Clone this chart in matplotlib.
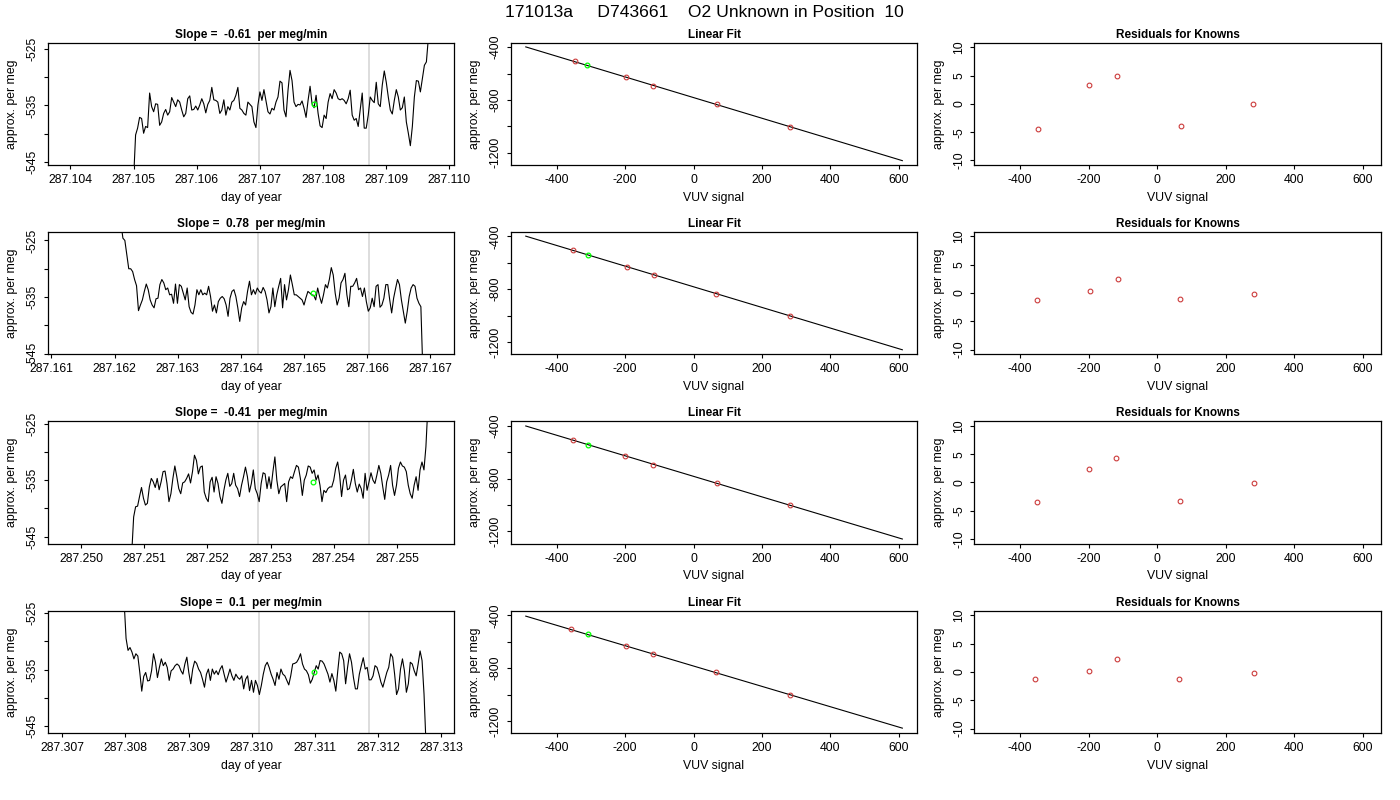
import numpy as np
import matplotlib.pyplot as plt

plt.rcParams['font.family'] = ['Liberation Sans', 'DejaVu Sans']
plt.rcParams['axes.unicode_minus'] = False

# ---- data ----
main_title = "171013a     D743661    O2 Unknown in Position  10"
slopes = ["-0.61", "0.78", "-0.41", "0.1"]

# time series (day of year), sampled evenly between start and end
ts_start = [287.10500, 287.16210, 287.25080, 287.30798]
ts_end = [287.10970, 287.16688, 287.25549, 287.31276]

ts1 = [-548.0, -540.2, -539.0, -537.1, -537.3, -539.9, -538.7, -538.9, -532.8, -535.2, -536.1, -534.7,
       -534.8, -538.5, -537.9, -536.4, -535.7, -536.7, -536.1, -533.6, -534.4, -535.2, -534.0, -534.4,
       -535.8, -537.0, -536.4, -533.8, -533.3, -535.8, -535.7, -535.1, -535.8, -534.9, -533.8, -534.7,
       -536.3, -534.8, -534.1, -531.8, -534.0, -534.1, -534.4, -536.4, -535.8, -534.0, -536.7, -535.2,
       -535.8, -534.4, -534.1, -533.2, -531.8, -535.5, -535.8, -536.4, -536.7, -534.4, -534.8, -535.2,
       -537.9, -538.9, -534.9, -532.6, -534.1, -532.2, -534.1, -536.1, -536.5, -535.5, -535.8, -534.4,
       -533.5, -530.7, -531.0, -535.8, -537.0, -532.3, -528.8, -530.6, -534.4, -535.2, -534.8, -534.9,
       -534.2, -535.5, -537.1, -534.1, -531.6, -534.7, -535.4, -533.2, -536.4, -538.6, -538.9, -536.7,
       -537.3, -534.4, -532.9, -533.8, -532.2, -532.8, -533.8, -534.0, -533.8, -534.1, -534.7, -533.8,
       -532.3, -536.7, -537.6, -537.3, -538.7, -535.8, -532.8, -539.0, -539.0, -536.7, -533.5, -534.1,
       -534.5, -530.9, -534.7, -535.2, -531.4, -528.9, -530.9, -533.5, -535.8, -536.5, -534.1, -532.2,
       -533.5, -535.8, -535.4, -533.5, -537.9, -539.9, -542.1, -538.7, -533.5, -530.6, -530.7, -532.6,
       -530.3, -527.9, -527.3, -523.0, -520.0]

ts2 = [-522.0, -524.6, -525.0, -527.5, -530.0, -530.0, -530.5, -531.9, -533.0, -537.4, -536.4, -535.5,
       -534.0, -532.7, -533.7, -535.5, -536.4, -536.9, -535.3, -535.2, -532.8, -531.9, -532.5, -533.7,
       -533.4, -534.6, -534.5, -536.1, -532.7, -536.1, -532.8, -533.1, -534.3, -535.5, -533.4, -536.7,
       -537.7, -538.0, -536.4, -533.7, -534.6, -533.7, -534.6, -534.3, -534.6, -533.1, -534.9, -537.5,
       -536.4, -537.8, -535.8, -535.2, -534.9, -535.3, -536.4, -538.4, -535.2, -534.0, -533.7, -534.9,
       -536.9, -539.3, -536.9, -535.8, -536.4, -534.0, -532.2, -534.6, -533.7, -534.5, -533.4, -534.0,
       -534.3, -533.3, -534.0, -535.5, -537.8, -536.7, -533.4, -536.7, -534.6, -533.1, -531.7, -536.9,
       -532.8, -535.5, -533.7, -531.1, -532.8, -534.6, -534.6, -534.9, -535.2, -535.5, -536.4, -535.1,
       -534.0, -534.3, -534.6, -534.7, -535.5, -533.4, -534.9, -536.1, -534.6, -532.8, -533.4, -531.9,
       -529.8, -531.1, -534.3, -536.4, -535.2, -532.5, -531.9, -530.8, -534.6, -536.7, -533.1, -533.1,
       -532.5, -531.7, -533.7, -533.4, -534.9, -533.4, -535.8, -537.5, -536.9, -535.2, -536.7, -533.1,
       -532.8, -536.8, -536.4, -535.2, -532.8, -532.8, -535.5, -537.8, -535.2, -533.5, -531.9, -532.8,
       -535.5, -537.5, -539.6, -537.5, -534.9, -533.4, -532.8, -533.1, -535.2, -536.1, -536.7, -548.0]

ts3 = [-548.0, -541.5, -539.7, -539.6, -537.9, -536.3, -538.2, -539.4, -539.1, -536.2, -534.7, -535.3,
       -536.3, -534.7, -536.7, -535.3, -533.5, -533.4, -535.6, -538.8, -537.4, -534.7, -532.5, -534.4,
       -536.5, -537.4, -535.5, -535.3, -534.7, -533.9, -535.5, -533.5, -530.6, -531.5, -533.9, -532.7,
       -532.5, -537.1, -538.2, -538.8, -535.3, -534.5, -537.1, -534.4, -535.6, -537.9, -539.1, -536.8,
       -535.0, -533.8, -536.1, -535.6, -533.8, -535.9, -536.5, -537.9, -535.9, -534.4, -532.7, -534.4,
       -537.1, -535.6, -533.2, -536.5, -537.4, -538.8, -535.6, -533.7, -533.9, -536.5, -534.4, -536.5,
       -533.5, -530.9, -535.0, -537.4, -536.2, -535.9, -535.6, -538.8, -535.3, -534.4, -534.7, -533.5,
       -532.4, -532.7, -534.7, -537.7, -535.0, -534.1, -532.5, -532.7, -533.8, -533.2, -535.0, -534.1,
       -535.9, -538.8, -536.8, -537.2, -536.5, -536.2, -536.2, -535.0, -532.9, -531.8, -534.1, -537.9,
       -535.0, -534.1, -536.7, -536.5, -535.0, -533.1, -535.6, -537.1, -535.7, -536.5, -538.2, -533.8,
       -536.8, -535.3, -533.7, -535.0, -535.6, -534.1, -532.4, -533.8, -536.2, -538.4, -535.3, -534.1,
       -532.4, -535.9, -537.7, -535.9, -532.9, -531.8, -532.5, -532.7, -533.5, -535.9, -537.4, -538.2,
       -535.9, -534.4, -536.8, -533.2, -531.8, -533.2, -529.1, -522.0]

ts4 = [-523.0, -529.5, -531.6, -531.1, -531.9, -533.1, -532.2, -532.6, -535.5, -538.8, -536.2, -535.5,
       -537.0, -536.9, -535.2, -532.2, -533.7, -536.4, -534.6, -533.1, -534.3, -533.7, -534.6, -536.9,
       -535.2, -534.9, -534.3, -534.0, -534.3, -535.2, -535.8, -534.0, -532.8, -535.5, -537.5, -534.9,
       -533.5, -533.9, -534.9, -535.5, -536.7, -538.1, -535.8, -534.9, -536.9, -534.9, -535.8, -535.2,
       -535.9, -534.9, -534.3, -535.8, -537.2, -536.1, -534.9, -536.1, -536.9, -535.8, -536.4, -536.7,
       -536.1, -538.4, -536.7, -536.1, -538.7, -536.9, -539.0, -536.9, -537.8, -539.4, -537.8, -535.8,
       -534.3, -533.7, -534.6, -535.8, -536.7, -537.8, -535.5, -536.7, -534.9, -535.8, -536.1, -536.9,
       -537.7, -536.1, -534.0, -533.9, -533.7, -533.1, -532.2, -534.0, -534.9, -535.2, -535.9, -537.4,
       -536.7, -535.5, -534.3, -534.9, -533.4, -533.5, -534.0, -534.9, -535.8, -537.2, -535.7, -536.9,
       -538.8, -535.2, -531.9, -532.2, -533.4, -537.5, -534.6, -532.2, -533.7, -536.4, -538.4, -538.4,
       -535.8, -534.3, -532.9, -534.9, -534.6, -536.8, -536.8, -536.1, -534.3, -534.6, -535.8, -537.2,
       -538.1, -536.8, -535.5, -534.6, -532.2, -532.8, -535.8, -539.4, -538.4, -534.9, -533.1, -535.2,
       -539.0, -537.5, -533.7, -534.0, -535.2, -536.1, -534.0, -531.7, -533.4, -539.3, -548.0]

series = [ts1, ts2, ts3, ts4]

# window edges (grey lines) and the unknown's mean (green point)
win_lo = [287.10698, 287.16427, 287.25280, 287.31011]
win_hi = [287.10872, 287.16602, 287.25455, 287.31186]
unk_time = [287.10785, 287.16514, 287.25367, 287.31098]
unk_val = [-534.71, -534.29, -535.41, -535.41]
time_lo = [287.10364, 287.16094, 287.24947, 287.30677]
time_ticks_first = [287.104, 287.161, 287.250, 287.307]

# known standards: VUV signal vs approx. per meg
known_vuv = [[-347, -198, -118, 70, 281],
             [-352, -195, -115, 66, 282],
             [-352, -199, -119, 68, 283],
             [-357, -198, -118, 65, 283]]
known_pm = [[-505.7, -628.9, -694.3, -832.7, -1001.3],
            [-506.0, -628.0, -693.0, -832.5, -1002.0],
            [-505.0, -630.0, -695.0, -832.5, -1002.5],
            [-507.5, -632.5, -695.0, -832.5, -1002.5]]
unk_vuv = [-309.7, -309.0, -308.7, -308.7]
unk_pm = [-538.4, -540.0, -542.5, -545.0]
residuals = [[-4.4, 3.4, 4.9, -4.0, 0.0],
             [-1.3, 0.4, 2.4, -1.1, -0.2],
             [-3.5, 2.3, 4.3, -3.2, -0.1],
             [-1.2, 0.1, 2.3, -1.3, -0.1]]
fit_range = [-490, 610]

# ---- figure ----
fig = plt.figure(figsize=(14, 8), dpi=100)
W, H = 1400.0, 800.0
col_left = [47.7, 510.7, 974.3]
ax_w = 406.7
row_top = [42.7, 231.9, 421.3, 610.8]
ax_h = 122.3
red = '#cc3b3b'


def make_ax(r, c):
    ax = fig.add_axes([col_left[c] / W, 1 - (row_top[r] + ax_h) / H, ax_w / W, ax_h / H])
    for s in ax.spines.values():
        s.set_linewidth(0.9)
    ax.tick_params(direction='out', length=3.1, width=0.8, labelsize=8.8, pad=3.5)
    ax.tick_params(axis='y', labelrotation=90)
    return ax


def yticks(ax, ticks, shown):
    ax.set_yticks(ticks)
    ax.set_yticklabels([str(t) if t in shown else '' for t in ticks], va='center')


for r in range(4):
    # left: time series
    ax = make_ax(r, 0)
    t = np.linspace(ts_start[r], ts_end[r], len(series[r]))
    ax.axvline(win_lo[r], color='#d3d3d3', lw=1.1, zorder=1)
    ax.axvline(win_hi[r], color='#d3d3d3', lw=1.1, zorder=1)
    ax.plot(t, series[r], color='black', lw=0.8, zorder=2)
    ax.plot(unk_time[r], unk_val[r], 'o', mfc='none', mec='#00ff00', ms=3.4, mew=0.9, zorder=3)
    ax.set_xlim(time_lo[r], time_lo[r] + 0.00644)
    ax.set_ylim(unk_val[r] - 10.8, unk_val[r] + 10.8)
    xt = [time_ticks_first[r] + 0.001 * i for i in range(7)]
    xt = [x for x in xt if x <= time_lo[r] + 0.00644]
    ax.set_xticks(xt)
    ax.set_xticklabels(['%.3f' % x for x in xt])
    yticks(ax, [-545, -540, -535, -530, -525], [-525, -535, -545])
    ax.set_title("Slope =  %s  per meg/min" % slopes[r], fontsize=8.5, fontweight='bold', pad=3.6)
    ax.set_xlabel("day of year", fontsize=8.8, labelpad=4)
    ax.set_ylabel("approx. per meg", fontsize=8.8, labelpad=6)

    # middle: linear fit
    ax = make_ax(r, 1)
    b, a = np.polyfit(known_vuv[r], known_pm[r], 1)
    ax.plot(fit_range, [a + b * x for x in fit_range], color='black', lw=0.8)
    ax.plot(known_vuv[r], known_pm[r], 'o', mfc='none', mec=red, ms=3.4, mew=0.8)
    ax.plot(unk_vuv[r], unk_pm[r], 'o', mfc='none', mec='#00ff00', ms=3.4, mew=0.9)
    ax.set_xlim(-534, 654)
    ax.set_ylim(-1292, -366)
    ax.set_xticks([-400, -200, 0, 200, 400, 600])
    yticks(ax, [-1200, -1000, -800, -600, -400], [-400, -800, -1200])
    ax.set_title("Linear Fit", fontsize=8.5, fontweight='bold', pad=3.6)
    ax.set_xlabel("VUV signal", fontsize=8.8, labelpad=4)
    ax.set_ylabel("approx. per meg", fontsize=8.8, labelpad=6)

    # right: residuals
    ax = make_ax(r, 2)
    ax.plot(known_vuv[r], residuals[r], 'o', mfc='none', mec=red, ms=3.4, mew=0.8)
    ax.set_xlim(-534, 654)
    ax.set_ylim(-10.8, 10.8)
    ax.set_xticks([-400, -200, 0, 200, 400, 600])
    yticks(ax, [-10, -5, 0, 5, 10], [-10, -5, 0, 5, 10])
    ax.set_title("Residuals for Knowns", fontsize=8.5, fontweight='bold', pad=3.6)
    ax.set_xlabel("VUV signal", fontsize=8.8, labelpad=4)
    ax.set_ylabel("approx. per meg", fontsize=8.8, labelpad=6)

fig.text(704 / W, 1 - 17 / H, main_title, ha='center', va='baseline', fontsize=12.6)

fig.savefig('out.png', dpi=100)
